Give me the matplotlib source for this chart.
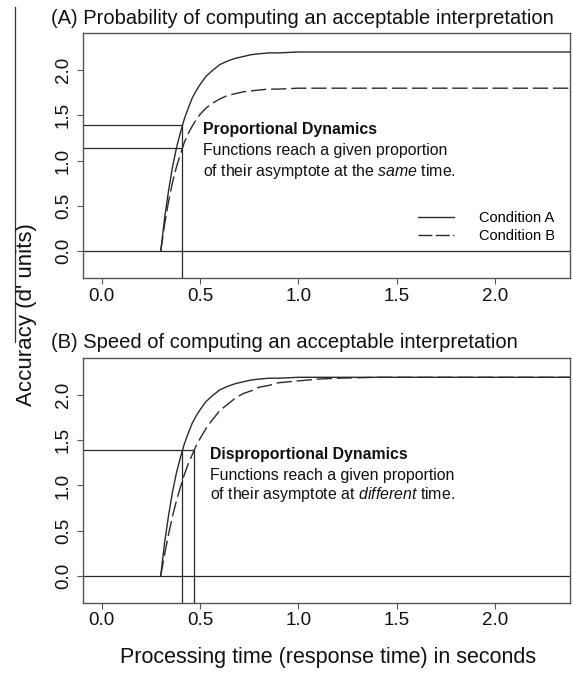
import matplotlib
matplotlib.use("Agg")
import matplotlib.pyplot as plt
from matplotlib.lines import Line2D

plt.rcParams['font.family'] = ['Liberation Sans', 'DejaVu Sans']
plt.rcParams['mathtext.fontset'] = 'custom'
plt.rcParams['mathtext.rm'] = 'Liberation Sans'
plt.rcParams['mathtext.it'] = 'Liberation Sans:italic'

# time points (s)
t = [0.30, 0.32, 0.34, 0.36, 0.38, 0.40, 0.42, 0.44, 0.46, 0.48, 0.50,
     0.53, 0.56, 0.60, 0.64, 0.68, 0.72, 0.76, 0.80, 0.85, 0.90, 1.00,
     1.10, 1.20, 1.40, 1.60, 2.40]

# panel A: proportional dynamics (d' values)
a_cond_a = [0.00, 0.37, 0.67, 0.93, 1.14, 1.31, 1.46, 1.58, 1.69, 1.77, 1.84,
            1.93, 1.99, 2.06, 2.10, 2.13, 2.15, 2.17, 2.18, 2.19, 2.19, 2.20,
            2.20, 2.20, 2.20, 2.20, 2.20]
a_cond_b = [0.00, 0.30, 0.55, 0.76, 0.93, 1.07, 1.20, 1.30, 1.38, 1.45, 1.51,
            1.58, 1.63, 1.68, 1.72, 1.74, 1.76, 1.77, 1.78, 1.79, 1.79, 1.80,
            1.80, 1.80, 1.80, 1.80, 1.80]
a_guide_t = [0.41]
a_guide_y = [1.39, 1.14]

# panel B: disproportional dynamics
b_cond_a = a_cond_a
b_cond_b = [0.00, 0.24, 0.46, 0.66, 0.83, 0.98, 1.12, 1.24, 1.34, 1.44, 1.52,
            1.63, 1.72, 1.83, 1.90, 1.97, 2.02, 2.05, 2.09, 2.11, 2.14, 2.16,
            2.18, 2.19, 2.20, 2.20, 2.20]
b_guide_t = [0.41, 0.47]
b_guide_y = [1.39]

xticks = [0.0, 0.5, 1.0, 1.5, 2.0]
yticks = [0.0, 0.5, 1.0, 1.5, 2.0]

XLIM = (-0.095, 2.38)
YLIM = (-0.30, 2.41)
LC = '#2a2a2a'
DASH = (11, 3.5)
TXT = '#111111'

fig = plt.figure(figsize=(5.73, 6.73), dpi=100)
axA = fig.add_axes([0.145, 0.5865, 0.849, 0.3645])
axB = fig.add_axes([0.145, 0.1045, 0.849, 0.363])


def style(ax):
    ax.set_xlim(XLIM)
    ax.set_ylim(YLIM)
    ax.set_xticks(xticks)
    ax.set_xticklabels(['%.1f' % v for v in xticks])
    ax.set_yticks(yticks)
    ax.set_yticklabels(['%.1f' % v for v in yticks])
    ax.tick_params(axis='both', labelsize=13.5, length=4, width=0.8,
                   color='#555555', labelcolor=TXT)
    ax.tick_params(axis='x', pad=3)
    ax.tick_params(axis='y', labelrotation=90, pad=4)
    for lab in ax.get_yticklabels():
        lab.set_va('center')
    for s in ax.spines.values():
        s.set_color('#555555')
        s.set_linewidth(1.0)
    ax.axhline(0, color=LC, lw=0.9)


style(axA)
style(axB)

# panel A
axA.plot(t, a_cond_a, color=LC, lw=1.0)
axA.plot(t, a_cond_b, color=LC, lw=1.0, dashes=DASH)
axA.hlines(a_guide_y, XLIM[0], a_guide_t[0], color=LC, lw=0.9)
axA.vlines(a_guide_t, YLIM[0], max(a_guide_y), color=LC, lw=0.9)
axA.text(0.515, 1.34, 'Proportional Dynamics', fontsize=11.4, fontweight='bold',
         ha='left', va='center', color=TXT)
axA.text(0.515, 1.115, 'Functions reach a given proportion', fontsize=11.4,
         ha='left', va='center', color=TXT)
axA.text(0.515, 0.885, r'of their asymptote at the $\it{same}$ time.', fontsize=11.4,
         ha='left', va='center', color=TXT)

handles = [Line2D([], [], color=LC, lw=1.0),
           Line2D([], [], color=LC, lw=1.0, dashes=(10, 2.5))]
axA.legend(handles, ['Condition A', 'Condition B'], loc='lower right',
           bbox_to_anchor=(0.985, 0.115), frameon=False, fontsize=10.5,
           handlelength=2.5, handletextpad=1.7, labelspacing=0.25, borderpad=0)

# panel B
axB.plot(t, b_cond_a, color=LC, lw=1.0)
axB.plot(t, b_cond_b, color=LC, lw=1.0, dashes=DASH)
axB.hlines(b_guide_y, XLIM[0], max(b_guide_t), color=LC, lw=0.9)
axB.vlines(b_guide_t, YLIM[0], b_guide_y[0], color=LC, lw=0.9)
axB.text(0.55, 1.34, 'Disproportional Dynamics', fontsize=11.4, fontweight='bold',
         ha='left', va='center', color=TXT)
axB.text(0.55, 1.115, 'Functions reach a given proportion', fontsize=11.4,
         ha='left', va='center', color=TXT)
axB.text(0.55, 0.895, r'of their asymptote at $\it{different}$ time.', fontsize=11.4,
         ha='left', va='center', color=TXT)

# titles and axis labels
fig.text(51 / 573, 1 - 18 / 673, '(A) Probability of computing an acceptable interpretation',
         fontsize=14.5, ha='left', va='center', color=TXT)
fig.text(51 / 573, 1 - 343 / 673, '(B) Speed of computing an acceptable interpretation',
         fontsize=14.5, ha='left', va='center', color=TXT)
fig.text(328 / 573, 1 - 658 / 673, 'Processing time (response time) in seconds',
         fontsize=15.5, ha='center', va='center', color=TXT)
fig.text(27 / 573, 1 - 315 / 673, "Accuracy (d' units)", fontsize=16,
         rotation=90, ha='center', va='center', color=TXT)
fig.add_artist(Line2D([15 / 573, 15 / 573], [1 - 7 / 673, 1 - 342 / 673],
                      color='#333333', lw=0.9))

fig.savefig('out.png', dpi=100)
